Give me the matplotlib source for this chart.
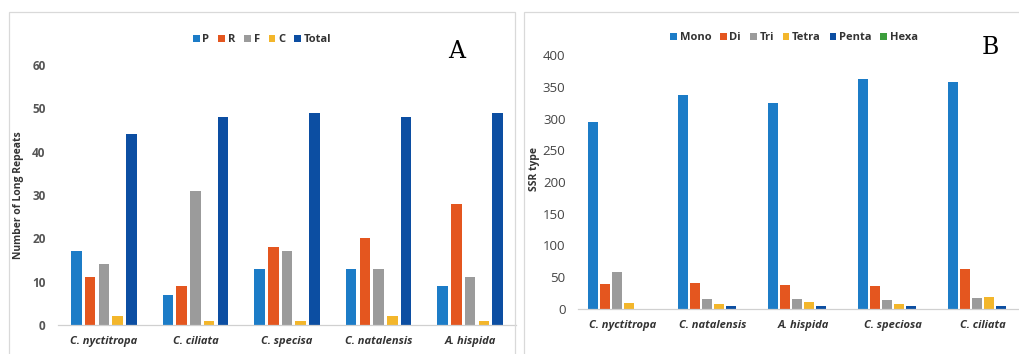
import numpy as np
import matplotlib
matplotlib.use("Agg")
import matplotlib.pyplot as plt
from matplotlib.patches import Rectangle

plt.rcParams['font.family'] = ['Open Sans', 'DejaVu Sans']

# panel A data
species_a = ["C. nyctitropa", "C. ciliata", "C. specisa", "C. natalensis", "A. hispida"]
rep_names = ["P", "R", "F", "C", "Total"]
rep_P = [17, 7, 13, 13, 9]
rep_R = [11, 9, 18, 20, 28]
rep_F = [14, 31, 17, 13, 11]
rep_C = [2, 1, 1, 2, 1]
rep_Total = [44, 48, 49, 48, 49]

# panel B data
species_b = ["C. nyctitropa", "C. natalensis", "A. hispida", "C. speciosa", "C. ciliata"]
ssr_names = ["Mono", "Di", "Tri", "Tetra", "Penta", "Hexa"]
ssr_mono = [294, 337, 325, 362, 358]
ssr_di = [39, 41, 38, 37, 63]
ssr_tri = [59, 15, 15, 14, 18]
ssr_tetra = [9, 8, 11, 8, 19]
ssr_penta = [0, 4, 4, 4, 4]
ssr_hexa = [0, 0, 0, 0, 0]

colors = ["#1C7CC7", "#E4561F", "#9B9B9B", "#F3B62B", "#0C4EA2", "#3C9E3C"]

W, H = 1019, 354
fig = plt.figure(figsize=(W / 100, H / 100), dpi=100)

# panel frames
for x0, x1 in [(9, 515), (524, 1030)]:
    fig.patches.append(Rectangle((x0 / W, -0.1), (x1 - x0) / W, (H - 12) / H + 0.1,
                                 transform=fig.transFigure, fill=False,
                                 edgecolor="#D9D9D9", linewidth=0.9))


def style(ax, ymax, step):
    for s in ["top", "right", "left"]:
        ax.spines[s].set_visible(False)
    ax.spines["bottom"].set_color("#D0D0D0")
    ax.spines["bottom"].set_linewidth(0.9)
    ax.set_ylim(0, ymax)
    ax.set_yticks(np.arange(0, ymax + 1, step))
    ax.tick_params(length=0)
    ax.set_xlim(-0.5, 4.5)


# ---- A ----
axA = fig.add_axes([58 / W, (H - 325) / H, 458 / W, 260 / H])
series_a = [rep_P, rep_R, rep_F, rep_C, rep_Total]
x = np.arange(len(species_a))
for i, vals in enumerate(series_a):
    axA.bar(x + (i - 2) * 0.15, vals, width=0.115, color=colors[i], label=rep_names[i])
style(axA, 60, 10)
axA.set_xticks(x)
axA.set_xticklabels(species_a, fontsize=8, fontstyle="italic", fontweight="bold", color="#333333")
axA.tick_params(axis="x", pad=8)
axA.tick_params(axis="y", labelsize=8.5, labelcolor="#555555", pad=9)
for t in axA.get_yticklabels():
    t.set_fontweight("bold")
axA.set_ylabel("Number of Long Repeats", fontsize=7.5, fontweight="bold", color="#333333")
axA.yaxis.set_label_coords(-0.075, 0.5)
legA = fig.legend(*axA.get_legend_handles_labels(), loc="center", bbox_to_anchor=(262 / W, 1 - 40 / H),
                  ncol=5, frameon=False, fontsize=8, handlelength=0.6, handleheight=0.6,
                  handletextpad=0.25, columnspacing=0.8)
for t in legA.get_texts():
    t.set_fontweight("bold")
    t.set_color("#333333")
fig.text(457 / W, 1 - 52 / H, "A", fontsize=17, family="DejaVu Serif", ha="center", va="center")

# ---- B ----
axB = fig.add_axes([578 / W, (H - 309) / H, 450 / W, 254 / H])
series_b = [ssr_mono, ssr_di, ssr_tri, ssr_tetra, ssr_penta, ssr_hexa]
x = np.arange(len(species_b))
for i, vals in enumerate(series_b):
    axB.bar(x + (i - 2.5) * 0.133, vals, width=0.11, color=colors[i], label=ssr_names[i])
style(axB, 400, 50)
axB.set_xticks(x)
axB.set_xticklabels(species_b, fontsize=8, fontstyle="italic", fontweight="bold", color="#333333")
axB.tick_params(axis="x", pad=8)
axB.tick_params(axis="y", labelsize=9.5, labelcolor="#444444", pad=9)
axB.set_ylabel("SSR type", fontsize=7.5, fontweight="bold", color="#333333")
axB.yaxis.set_label_coords(-0.085, 0.55)
legB = fig.legend(*axB.get_legend_handles_labels(), loc="center", bbox_to_anchor=(794 / W, 1 - 38 / H),
                  ncol=6, frameon=False, fontsize=8, handlelength=0.6, handleheight=0.6,
                  handletextpad=0.25, columnspacing=0.8)
for t in legB.get_texts():
    t.set_fontweight("bold")
    t.set_color("#333333")
fig.text(990 / W, 1 - 47 / H, "B", fontsize=17, family="DejaVu Serif", ha="center", va="center")

fig.savefig("out.png", dpi=100)
